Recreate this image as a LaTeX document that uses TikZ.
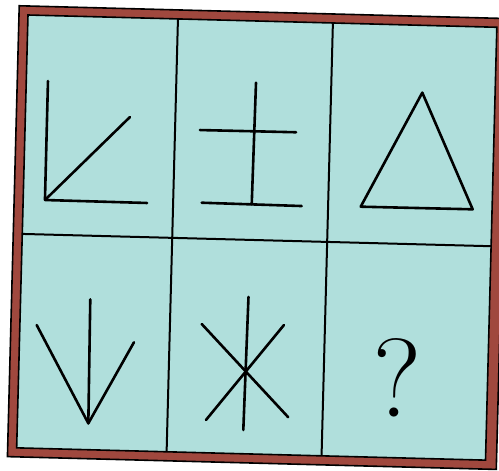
\documentclass[tikz,border=0pt]{standalone}
\usetikzlibrary{calc}
\definecolor{cellteal}{RGB}{176,223,220}
\definecolor{framebrown}{RGB}{160,72,62}

\begin{document}
\begin{tikzpicture}[
  x=1pt, y=-1pt,
  frame/.style={draw=black, line width=1.6pt},
  divider/.style={draw=black, line width=2pt},
  figline/.style={draw=black, line width=2.6pt, line cap=round, line join=round}
]
\useasboundingbox (0,0) rectangle (499,471);
\clip (0,0) rectangle (499,471);
\begin{scope}[shift={(28pt,-15pt)}, x={(0.99966pt,-0.02618pt)}, y={(-0.02618pt,-0.99966pt)}]
% frame and cells
\filldraw[frame, fill=framebrown] (-9,-9) -- (480,-9) -- (480,442) -- (-9,442) -- cycle;
\filldraw[frame, fill=cellteal] (0,0) -- (469,0) -- (469,433) -- (0,433) -- cycle;
\coordinate (colA top) at (150,0);
\coordinate (colA bot) at (150,433);
\coordinate (colB top) at (305,0);
\coordinate (colB bot) at (305,433);
\coordinate (row left) at (0,219);
\coordinate (row right) at (469,219);
\draw[divider] (colA top) -- (colA bot);
\draw[divider] (colB top) -- (colB bot);
\draw[divider] (row left) -- (row right);
% angle
\coordinate (angle top) at (21.7,65.5);
\coordinate (angle corner) at (21.8,184.5);
\coordinate (angle right) at (123.9,184.8);
\coordinate (angle diag) at (104.6,99.3);
\draw[figline] (angle top) -- (angle corner) -- (angle right);
\draw[figline] (angle corner) -- (angle diag);
% cross on a base
\coordinate (cross top) at (229.7,61.7);
\coordinate (cross bot) at (228.6,183.4);
\coordinate (bar left) at (174.9,110.5);
\coordinate (bar right) at (271,110.2);
\coordinate (base left) at (178.5,183.1);
\coordinate (base right) at (278.6,183.8);
\draw[figline] (cross top) -- (cross bot);
\draw[figline] (bar left) -- (bar right);
\draw[figline] (base left) -- (base right);
% triangle
\coordinate (tri top) at (396.2,67.3);
\coordinate (tri left) at (337.6,182.9);
\coordinate (tri right) at (449.6,182.6);
\draw[figline] (tri top) -- (tri left) -- (tri right) -- cycle;
% arrow
\coordinate (arrow top) at (69.7,282.6);
\coordinate (arrow tip) at (71,406.6);
\coordinate (arrow left) at (16.8,309.7);
\coordinate (arrow right) at (114.5,324.4);
\draw[figline] (arrow top) -- (arrow tip);
\draw[figline] (arrow left) -- (arrow tip) -- (arrow right);
% star
\coordinate (star n) at (227.8,276.1);
\coordinate (star s) at (226.1,409.2);
\coordinate (star nw) at (181.7,304.3);
\coordinate (star se) at (270.7,395.3);
\coordinate (star ne) at (264,303.2);
\coordinate (star sw) at (188.5,400.2);
\draw[figline] (star n) -- (star s);
\draw[figline] (star nw) -- (star se);
\draw[figline] (star ne) -- (star sw);
% missing cell
\node[font=\fontsize{112}{112}\selectfont, rotate=-1.5, inner sep=0pt] (qmark) at (378.4,353.2) {?};
\end{scope}
\end{tikzpicture}
\end{document}
